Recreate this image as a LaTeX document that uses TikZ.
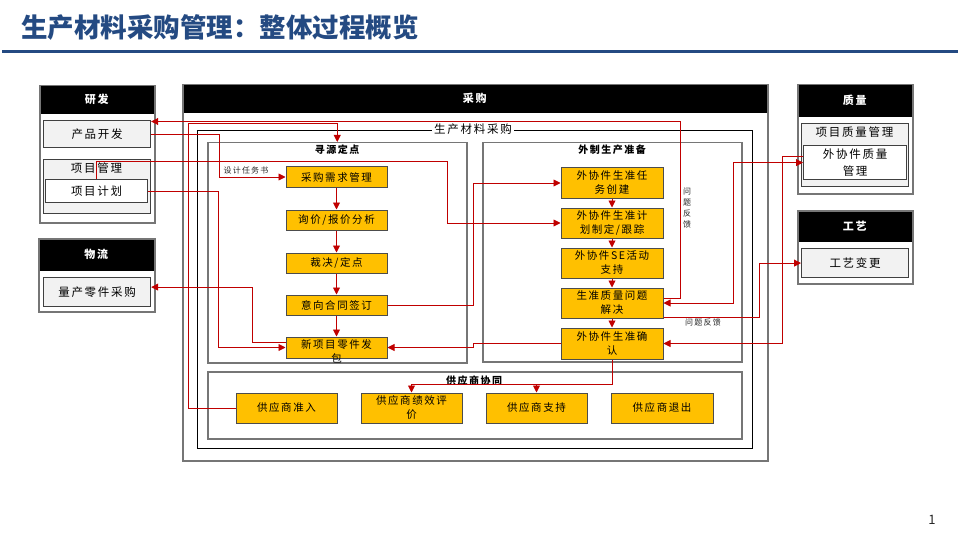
\documentclass[tikz,border=0pt]{standalone}
\usepackage{fontspec}
\setmainfont{Noto Sans CJK SC}
\newfontfamily\spfont{Noto Sans CJK SC}[LetterSpace=15]
\usetikzlibrary{arrows.meta, positioning, calc}
\definecolor{titleblue}{RGB}{36, 74, 130}
\definecolor{linkred}{RGB}{192, 0, 0}
\definecolor{procyellow}{RGB}{255, 192, 0}
\definecolor{framegray}{RGB}{118, 118, 118}
\definecolor{itemgray}{RGB}{242, 242, 242}
\newcommand{\titlefont}{\bfseries\fontsize{26.5}{32}\selectfont}
\newcommand{\hdrfont}{\spfont\bfseries\fontsize{11}{13}\selectfont}
\newcommand{\grpfont}{\spfont\bfseries\fontsize{10}{12}\selectfont}
\newcommand{\itemfont}{\spfont\fontsize{11.5}{17}\selectfont}
\newcommand{\procfont}{\spfont\fontsize{10.5}{14}\selectfont}
\newcommand{\notefont}{\spfont\fontsize{8}{11}\selectfont}

\begin{document}
\begin{tikzpicture}[
    x=1pt, y=-1pt,
    hdr/.style={rectangle, fill=black, text=white, anchor=north west, inner sep=0pt, font=\hdrfont},
    frame/.style={rectangle, draw=framegray, line width=1.5pt, anchor=north west, inner sep=0pt},
    item/.style={rectangle, draw=black!75, fill=itemgray, line width=1.2pt, anchor=north west, inner sep=0pt, font=\itemfont},
    proc/.style={rectangle, draw=black!70, fill=procyellow, line width=1pt, minimum width=101pt, inner sep=0pt, align=center, font=\procfont},
    note/.style={text=black!85, inner sep=1pt, font=\notefont},
    link/.style={draw=linkred, line width=0.9pt, -{Triangle[length=7pt, width=7pt]}}
]
    \useasboundingbox (0,0) rectangle (960,540);

    % title
    \node[anchor=west, inner sep=0pt, text=titleblue, font=\titlefont] (title) at (21,27) {生产材料采购管理：整体过程概览};
    \draw[titleblue, line width=3pt] (2,52) -- (958,52);

    % R&D
    \node[hdr, minimum width=115pt, minimum height=29pt] (rdhead) at (39,85) {研发};
    \node[frame, minimum width=115pt, minimum height=137pt] (rd) at (39,85) {};
    \node[item, minimum width=107pt, minimum height=27pt] (devbox) at (43,120) {产品开发};
    \node[item, minimum width=107pt, minimum height=54pt] (pmbox) at (43,159) {};
    \node[inner sep=0pt, font=\itemfont] (pmlabel) at (96.5,168) {项目管理};
    \node[item, fill=white, minimum width=102pt, minimum height=23pt] (planbox) at (45,179) {项目计划};

    % logistics
    \node[hdr, minimum width=116pt, minimum height=33pt] (logihead) at (38,238) {物流};
    \node[frame, minimum width=116pt, minimum height=73pt] (logi) at (38,238) {};
    \node[item, minimum width=107pt, minimum height=29pt] (masspur) at (43,277) {量产零件采购};

    % purchasing
    \node[hdr, minimum width=585pt, minimum height=29pt] (purhead) at (182,84) {采购};
    \node[frame, minimum width=585pt, minimum height=376pt] (pur) at (182,84) {};
    \node[frame, draw=black, line width=0.9pt, minimum width=555pt, minimum height=318pt] (matframe) at (197,130) {};
    \node[fill=white, inner sep=2pt, font=\itemfont] (matlabel) at (473,129) {生产材料采购};
    \node[frame, minimum width=259pt, minimum height=220pt] (srcgrp) at (207,142) {};
    \node[inner sep=0pt, font=\grpfont] (srclabel) at (337,150) {寻源定点};
    \node[frame, minimum width=259pt, minimum height=219pt] (prepgrp) at (482,142) {};
    \node[inner sep=0pt, font=\grpfont] (preplabel) at (612,150) {外制生产准备};
    \node[frame, minimum width=534pt, minimum height=67pt] (supgrp) at (207,371) {};
    \node[inner sep=0pt, font=\grpfont] (suplabel) at (474,381) {供应商协同};

    % sourcing steps
    \node[proc, minimum height=20pt] (s1) at (336.5,177) {采购需求管理};
    \node[proc, minimum height=20pt] (s2) at (336.5,220) {询价/报价分析};
    \node[proc, minimum height=20pt] (s3) at (336.5,263) {裁决/定点};
    \node[proc, minimum height=20pt] (s4) at (336.5,305) {意向合同签订};
    \node[proc, minimum height=21pt] (s5) at (336.5,347.5) {};
    \node[inner sep=0pt, align=center, font=\procfont] (s5text) at (336.5,351) {新项目零件发\\包};

    % production preparation steps
    \node[proc, minimum width=102pt, minimum height=30pt] (p1) at (612,183) {外协件生准任\\务创建};
    \node[proc, minimum width=102pt, minimum height=30pt] (p2) at (612,223) {外协件生准计\\划制定/跟踪};
    \node[proc, minimum width=102pt, minimum height=30pt] (p3) at (612,263) {外协件SE活动\\支持};
    \node[proc, minimum width=102pt, minimum height=30pt] (p4) at (612,303) {生准质量问题\\解决};
    \node[proc, minimum width=102pt, minimum height=31pt] (p5) at (612,343.5) {外协件生准确\\认};

    % supplier steps
    \node[proc, minimum height=30pt] (v1) at (286.5,408) {供应商准入};
    \node[proc, minimum height=30pt] (v2) at (411.5,408) {供应商绩效评\\价};
    \node[proc, minimum height=30pt] (v3) at (536.5,408) {供应商支持};
    \node[proc, minimum width=102pt, minimum height=30pt] (v4) at (662,408) {供应商退出};

    % quality
    \node[hdr, minimum width=115pt, minimum height=33pt] (qualhead) at (797,84) {质量};
    \node[frame, minimum width=115pt, minimum height=109pt] (qual) at (797,84) {};
    \node[item, minimum width=107pt, minimum height=63pt] (pqm) at (801,123) {};
    \node[inner sep=0pt, font=\itemfont] (pqmlabel) at (854.5,132) {项目质量管理};
    \node[item, fill=white, align=center, minimum width=103pt, minimum height=34pt] (oqm) at (803,145) {外协件质量\\管理};

    % process
    \node[hdr, minimum width=115pt, minimum height=32pt] (prochead) at (797,210) {工艺};
    \node[frame, minimum width=115pt, minimum height=73pt] (procgrp) at (797,210) {};
    \node[item, minimum width=107pt, minimum height=29pt] (chg) at (801,248) {工艺变更};

    % notes
    \node[note] (tasknote) at (246,170) {设计任务书};
    \node[note, align=center] (fbnote1) at (687,208) {问\\题\\反\\馈};
    \node[note] (fbnote2) at (703,322) {问题反馈};
    \node[inner sep=0pt, text=black!85, font=\fontsize{13}{15}\selectfont] (pagenum) at (932,520) {1};

    % step chains
    \foreach \a/\b in {s1/s2, s2/s3, s3/s4, s4/s5, p1/p2, p2/p3, p3/p4, p4/p5}
        \draw[link] (\a.south) -- (\b.north);

    % links between departments
    \draw[link] (devbox.east) -- ++(68,0) |- (s1.west);
    \draw[link] (planbox.east) -- ++(70,0) |- (s5.west);
    \draw[link] (planbox.north) -- ++(0,-18) -| ($(p2.west)+(-113,0)$) -- (p2.west);
    \draw[link] ($(s5.west)+(0,-5)$) -- ++(-33,0) |- ($(masspur.east)+(0,-5)$);
    \draw[link] (s4.east) -| ($(p1.west)+(-87,0)$) -- (p1.west);
    \draw[link] (p5.west) -- ++(-87,0) |- (s5.east);
    \draw[link] ($(p4.east)+(0,-5)$) -- ++(17,0) |- ($(devbox.north east)+(0,1.5)$);
    \draw[link, {Triangle[length=7pt, width=7pt]}-{Triangle[length=7pt, width=7pt]}] (p4.east) -- ++(70,0) |- (oqm.west);
    \draw[link] ($(p4.east)+(0,14)$) -- ++(96,0) |- (chg.west);
    \draw[link] ($(oqm.west)+(0,-6)$) -- ++(-21,0) |- (p5.east);
    \draw[link] (p5.south) -- ++(0,25) -| (v2.north);
    \draw[link] ($(p5.south)+(0,25)$) -| (v3.north);
    \draw[link] (v1.west) -- ++(-47,0) |- ($(srcgrp.north)+(0,-18.5)$) -- (srcgrp.north);
\end{tikzpicture}
\end{document}
